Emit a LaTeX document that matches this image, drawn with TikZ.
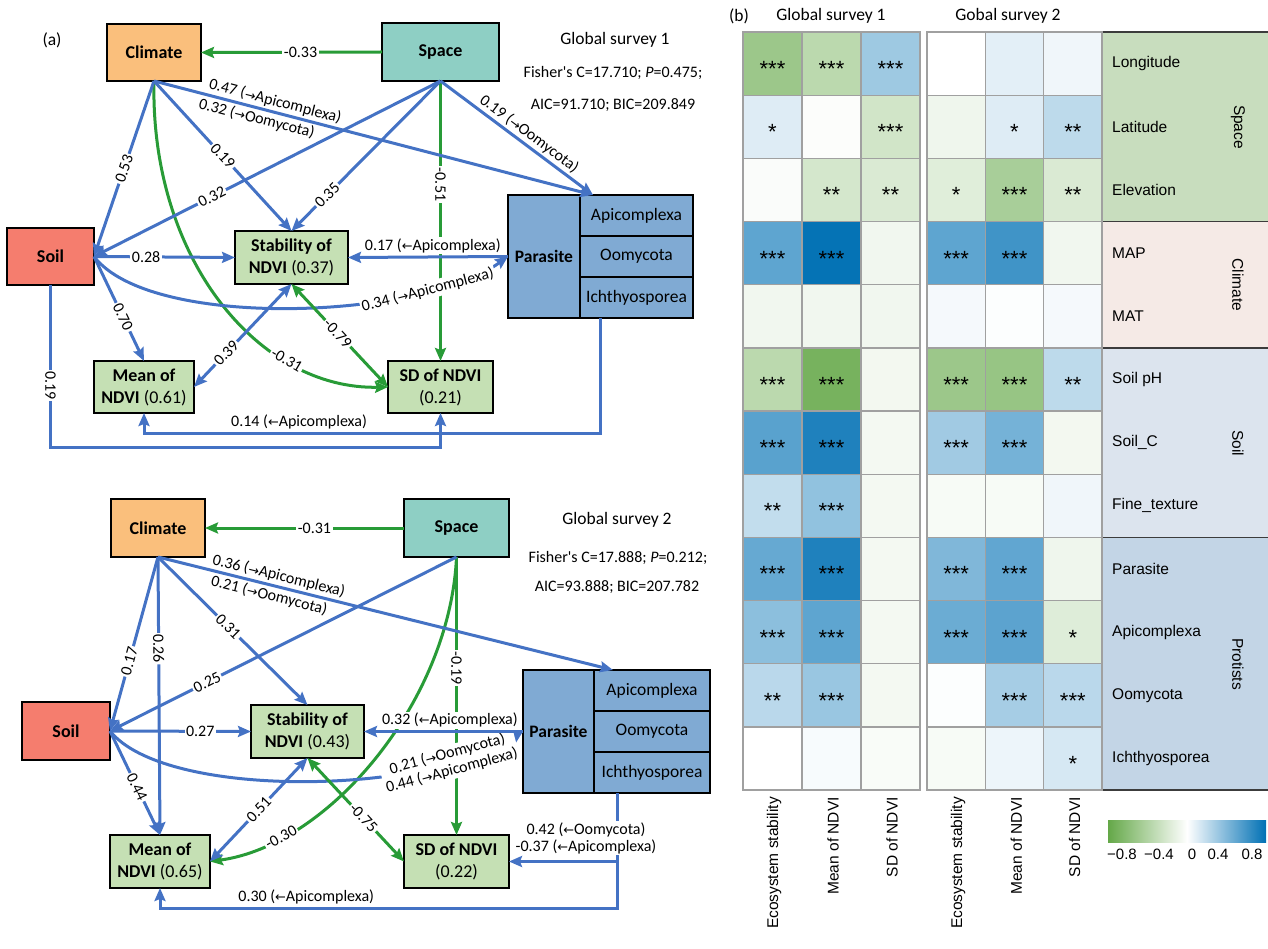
\documentclass[tikz,border=0pt]{standalone}
\usepackage{fontspec}
\setmainfont{Carlito}
\newfontfamily\hmfont{Liberation Sans}
\newfontfamily\arrfont{DejaVu Sans}
\usetikzlibrary{positioning, arrows.meta}

\definecolor{climfill}{RGB}{250,191,124}
\definecolor{spacefill}{RGB}{142,207,196}
\definecolor{soilfill}{RGB}{245,125,110}
\definecolor{ndvifill}{RGB}{197,224,180}
\definecolor{parfill}{RGB}{128,170,211}
\definecolor{lineblue}{RGB}{68,114,196}
\definecolor{linegreen}{RGB}{40,155,55}
\definecolor{hmgreen}{RGB}{100,168,72}
\definecolor{hmblue}{RGB}{0,112,180}
\definecolor{gridgray}{RGB}{160,160,160}
\definecolor{grpspace}{RGB}{200,221,190}
\definecolor{grpclim}{RGB}{245,234,230}
\definecolor{grpsoil}{RGB}{220,228,238}
\definecolor{grpprot}{RGB}{195,213,230}
\definecolor{grpline}{RGB}{60,60,60}

\newcommand{\rarr}{{\arrfont\scalebox{0.8}{→}}}
\newcommand{\larr}{{\arrfont\scalebox{0.8}{←}}}

\begin{document}
\begin{tikzpicture}[
    x=1pt, y=-1pt,
    box/.style={rectangle, draw, line width=1.6pt, inner sep=0pt, outer sep=0pt, align=center, font=\fontsize{18}{22}\selectfont\bfseries},
    sub/.style={rectangle, draw, line width=1.2pt, fill=parfill, inner sep=0pt, outer sep=0pt, minimum height=41pt, font=\fontsize{17.5}{20}\selectfont},
    barrow/.style={draw=lineblue, line width=3pt, -{Stealth[length=13pt, width=11pt, inset=2pt]}},
    garrow/.style={barrow, draw=linegreen},
    bboth/.style={draw=lineblue, line width=3pt, {Stealth[length=13pt, width=11pt, inset=2pt]}-{Stealth[length=13pt, width=11pt, inset=2pt]}},
    gboth/.style={bboth, draw=linegreen},
    lbl/.style={font=\fontsize{16}{17}\selectfont, inner sep=1.5pt, fill=white},
    side/.style={font=\fontsize{16}{19}\selectfont, inner sep=2pt},
    title/.style={font=\fontsize{17.5}{21}\selectfont},
    hmlab/.style={font=\hmfont\fontsize{15.5}{18}\selectfont, inner sep=0pt},
    hmstar/.style={font=\hmfont\fontsize{22}{22}\selectfont, inner sep=0pt}
  ]
  \useasboundingbox (0,0) rectangle (1268,949);

  % ---- (a) global survey 1 ----
  \node[title] (lbla) at (52,40) {(a)};
  \node[title] (tit1) at (615,40) {Global survey 1};
  \node[side] (fis1) at (613,73) {Fisher\textquotesingle s C=17.710; \textit{P}=0.475;};
  \node[side] (aic1) at (613,105) {AIC=91.710; BIC=209.849};

  \node[box, fill=climfill, minimum width=94pt, minimum height=57pt] (clim1) at (154,52.5) {Climate};
  \node[box, fill=spacefill, minimum width=117pt, minimum height=58pt] (spa1) at (440.5,52) {Space};
  \node[box, fill=soilfill, minimum width=87pt, minimum height=57pt] (soil1) at (50.5,256.5) {Soil};
  \node[box, fill=ndvifill, minimum width=113pt, minimum height=53pt] (stab1) at (291.5,257.5) {Stability of\\NDVI \textmd{(0.37)}};
  \node[box, fill=ndvifill, minimum width=100pt, minimum height=52pt] (mean1) at (144,387) {Mean of\\NDVI \textmd{(0.61)}};
  \node[box, fill=ndvifill, minimum width=105pt, minimum height=52pt] (sd1) at (440.5,387) {SD of NDVI\\\textmd{(0.21)}};
  \node[box, fill=parfill, minimum width=72pt, minimum height=123pt, font=\fontsize{17.5}{20}\selectfont\bfseries] (par1) at (544,256.5) {Parasite};
  \node[sub, minimum width=113pt, anchor=north west] (api1) at (par1.north east) {Apicomplexa};
  \node[sub, minimum width=113pt, below=0pt of api1] (oom1) {Oomycota};
  \node[sub, minimum width=113pt, below=0pt of oom1] (ich1) {Ichthyosporea};

  \draw[garrow] (spa1.west) -- node[lbl, pos=0.45] {-0.33} (clim1.east);
  \draw[garrow] (spa1.south) -- node[lbl, sloped, pos=0.37] {-0.51} (sd1.north);
  \draw[garrow] (clim1.south) .. controls (150,260) and (260,390) .. node[lbl, sloped, pos=0.72] {-0.31} (sd1.west);
  \draw[barrow] (clim1.south) -- node[lbl, sloped, pos=0.5] {0.53} (soil1.east);
  \draw[barrow] (clim1.south) -- node[lbl, sloped, pos=0.5] {0.19} (stab1.north);
  \draw[barrow] (clim1.south) -- node[side, sloped, pos=0.27, above] {0.47 (\rarr Apicomplexa)}
    node[side, sloped, pos=0.24, below] {0.32 (\rarr Oomycota)} ([xshift=13pt]api1.north west);
  \draw[barrow] (spa1.south) -- node[lbl, sloped, pos=0.66] {0.32} (soil1.east);
  \draw[barrow] (spa1.south) -- node[lbl, sloped, pos=0.76] {0.35} (stab1.north);
  \draw[barrow] (spa1.south) -- node[side, sloped, pos=0.54, above] {0.19 (\rarr Oomycota)} ([xshift=13pt]api1.north west);
  \draw[barrow] (soil1.east) -- node[lbl, pos=0.37] {0.28} (stab1.west);
  \draw[barrow] (soil1.east) -- node[lbl, sloped, pos=0.58] {0.70} (mean1.north);
  \draw[barrow] (soil1.east) .. controls (150,330) and (420,320) .. node[lbl, sloped, pos=0.78] {0.34 (\rarr Apicomplexa)} (par1.west);
  \draw[barrow] (par1.west) -- node[lbl, above, pos=0.47, yshift=1pt] {0.17 (\larr Apicomplexa)} (stab1.east);
  \draw[bboth] (stab1.south) -- node[lbl, sloped, pos=0.67] {0.39} (mean1.east);
  \draw[gboth] (stab1.south) -- node[lbl, sloped, pos=0.48] {-0.79} (sd1.west);
  \draw[barrow] (soil1.south) -- node[lbl, sloped, pos=0.62] {0.19} ++(0,162) -| (sd1.south);
  \draw[barrow] ([xshift=20pt]ich1.south west) -- ++(0,115) -| node[lbl, pos=0.33, above, yshift=1pt] {0.14 (\larr Apicomplexa)} (mean1.south);

  % ---- (a) global survey 2 ----
  \node[title] (tit2) at (617,520) {Global survey 2};
  \node[side] (fis2) at (618,558) {Fisher\textquotesingle s C=17.888; \textit{P}=0.212;};
  \node[side] (aic2) at (617,587) {AIC=93.888; BIC=207.782};

  \node[box, fill=climfill, minimum width=94pt, minimum height=58pt] (clim2) at (158,528) {Climate};
  \node[box, fill=spacefill, minimum width=105pt, minimum height=58pt] (spa2) at (456.5,528) {Space};
  \node[box, fill=soilfill, minimum width=88pt, minimum height=58pt] (soil2) at (66,731) {Soil};
  \node[box, fill=ndvifill, minimum width=113pt, minimum height=53pt] (stab2) at (307.5,731.5) {Stability of\\NDVI \textmd{(0.43)}};
  \node[box, fill=ndvifill, minimum width=100pt, minimum height=53pt] (mean2) at (160,861.5) {Mean of\\NDVI \textmd{(0.65)}};
  \node[box, fill=ndvifill, minimum width=105pt, minimum height=53pt] (sd2) at (456.5,861.5) {SD of NDVI\\\textmd{(0.22)}};
  \node[box, fill=parfill, minimum width=71pt, minimum height=123pt, font=\fontsize{17.5}{20}\selectfont\bfseries] (par2) at (558.5,731.5) {Parasite};
  \node[sub, minimum width=116pt, anchor=north west] (api2) at (par2.north east) {Apicomplexa};
  \node[sub, minimum width=116pt, below=0pt of api2] (oom2) {Oomycota};
  \node[sub, minimum width=116pt, below=0pt of oom2] (ich2) {Ichthyosporea};

  \draw[garrow] (spa2.west) -- node[lbl, pos=0.45] {-0.31} (clim2.east);
  \draw[garrow] (spa2.south) -- node[lbl, sloped, pos=0.4] {-0.19} (sd2.north);
  \draw[garrow] (spa2.south) .. controls (450,700) and (330,845) .. node[lbl, sloped, pos=0.8] {-0.30} (mean2.east);
  \draw[barrow] (clim2.south) -- node[lbl, sloped, pos=0.6] {0.17} (soil2.east);
  \draw[barrow] (clim2.south) -- node[lbl, sloped, pos=0.33] {0.26} (mean2.north);
  \draw[barrow] (clim2.south) -- node[lbl, sloped, pos=0.47] {0.31} (stab2.north);
  \draw[barrow] (clim2.south) -- node[side, sloped, pos=0.26, above] {0.36 (\rarr Apicomplexa)}
    node[side, sloped, pos=0.25, below] {0.21 (\rarr Oomycota)} ([xshift=19pt]api2.north west);
  \draw[barrow] (spa2.south) -- node[lbl, sloped, pos=0.72] {0.25} (soil2.east);
  \draw[barrow] (soil2.east) -- node[lbl, pos=0.64] {0.27} (stab2.west);
  \draw[barrow] (soil2.east) -- node[lbl, sloped, pos=0.54] {0.44} (mean2.north);
  \draw[barrow] (soil2.east) .. controls (165,800) and (430,795) .. node[lbl, sloped, pos=0.8, align=center] {0.21 (\rarr Oomycota)\\0.44 (\rarr Apicomplexa)} (par2.west);
  \draw[barrow] (par2.west) -- node[lbl, above, pos=0.46, yshift=1pt] {0.32 (\larr Apicomplexa)} (stab2.east);
  \draw[bboth] (stab2.south) -- node[lbl, sloped, pos=0.5] {0.51} (mean2.east);
  \draw[gboth] (stab2.south) -- node[lbl, sloped, pos=0.58] {-0.75} (sd2.west);
  \draw[barrow] ([xshift=23pt]ich2.south west) -- ++(0,115) -| node[lbl, pos=0.34, above, yshift=1pt] {0.30 (\larr Apicomplexa)} (mean2.south);
  \draw[barrow] ([xshift=23pt]ich2.south west) |- node[lbl, pos=0.33, xshift=-31pt, align=center] {0.42 (\larr Oomycota)\\-0.37 (\larr Apicomplexa)} (sd2.east);

  % ---- (b) heatmap ----
  \node[title] (lblb) at (739,16) {(b)};
  \node[title] (hd1) at (831,16) {Global survey 1};
  \node[title] (hd2) at (1008,16) {Gobal survey 2};

  \fill[grpspace] (1102,32) rectangle (1268,221.5);
  \fill[grpclim] (1102,221.5) rectangle (1268,348);
  \fill[grpsoil] (1102,348) rectangle (1268,537.5);
  \fill[grpprot] (1102,537.5) rectangle (1268,790);
  \foreach \gy in {32,221.5,348,537.5}
    \draw[grpline, line width=1.3pt] (1102,\gy) -- (1268,\gy);
  \draw[grpline, line width=2.5pt] (1102,790) -- (1268,790);
  \node[hmlab, rotate=-90] (gspace) at (1238,127) {Space};
  \node[hmlab, rotate=-90] (gclim) at (1238,285) {Climate};
  \node[hmlab, rotate=-90] (gsoil) at (1238,443) {Soil};
  \node[hmlab, rotate=-90] (gprot) at (1238,664) {Protists};

  % signed percentages: negative = green, positive = blue
  \foreach \lab/\cells [count=\r from 0] in {
      Longitude/{-64/***,-44/***,38/***,0/{},11/{},6/{}},
      Latitude/{13/*,-2/{},-30/***,-10/{},13/*,26/**},
      Elevation/{-3/{},-28/**,-24/**,-20/*,-56/***,-24/**},
      MAP/{63/***,98/***,-9/{},63/***,75/***,-9/{}},
      MAT/{-9/{},-9/{},-9/{},4/{},1/{},4/{}},
      Soil pH/{-44/***,-88/***,-8/{},-64/***,-67/***,26/**},
      Soil\_C/{65/***,88/***,-7/{},37/***,54/***,-8/{}},
      Fine\_texture/{24/**,43/***,-7/{},-5/{},-5/{},6/{}},
      Parasite/{60/***,88/***,-7/{},50/***,62/***,-10/{}},
      Apicomplexa/{45/***,63/***,-7/{},58/***,64/***,-21/*},
      Oomycota/{27/**,40/***,-7/{},1/{},35/***,27/***},
      Ichthyosporea/{0/{},3/{},-4/{},-5/{},7/{},16/*}} {
    \pgfmathsetmacro\cy{32+\r*63.17}
    \node[hmlab, anchor=west] (rl\r) at (1112,\cy+31.6) {\lab};
    \foreach \v/\s [count=\c from 0] in \cells {
      \pgfmathsetmacro\cx{\c<3 ? 743+\c*59 : 927+(\c-3)*58.33}
      \pgfmathsetmacro\cw{\c<3 ? 59 : 58.33}
      \pgfmathsetmacro\pct{abs(\v)}
      \ifnum\v<0 \def\hue{hmgreen}\else\def\hue{hmblue}\fi
      \path[draw=gridgray, line width=1.3pt, fill=\hue!\pct!white] (\cx,\cy) rectangle ++(\cw,63.17);
      \node[hmstar] (st\r-\c) at (\cx+\cw/2,\cy+37) {\s};
    }
  }

  \foreach \lab [count=\c from 0] in {Ecosystem stability, Mean of NDVI, SD of NDVI, Ecosystem stability, Mean of NDVI, SD of NDVI} {
    \pgfmathsetmacro\cx{\c<3 ? 743+\c*59+31 : 927+(\c-3)*58.33+31}
    \node[hmlab, rotate=90, anchor=east] (cl\c) at (\cx,797) {\lab};
  }

  % colour key
  \shade[left color=hmgreen, right color=hmblue, middle color=white] (1108,820) rectangle (1266,842);
  \foreach \t/\tx in {−0.8/1122, −0.4/1159, 0/1192, 0.4/1218, 0.8/1252}
    \node[hmlab, font=\hmfont\fontsize{15}{18}\selectfont] (tk\tx) at (\tx,854) {\t};
\end{tikzpicture}
\end{document}
